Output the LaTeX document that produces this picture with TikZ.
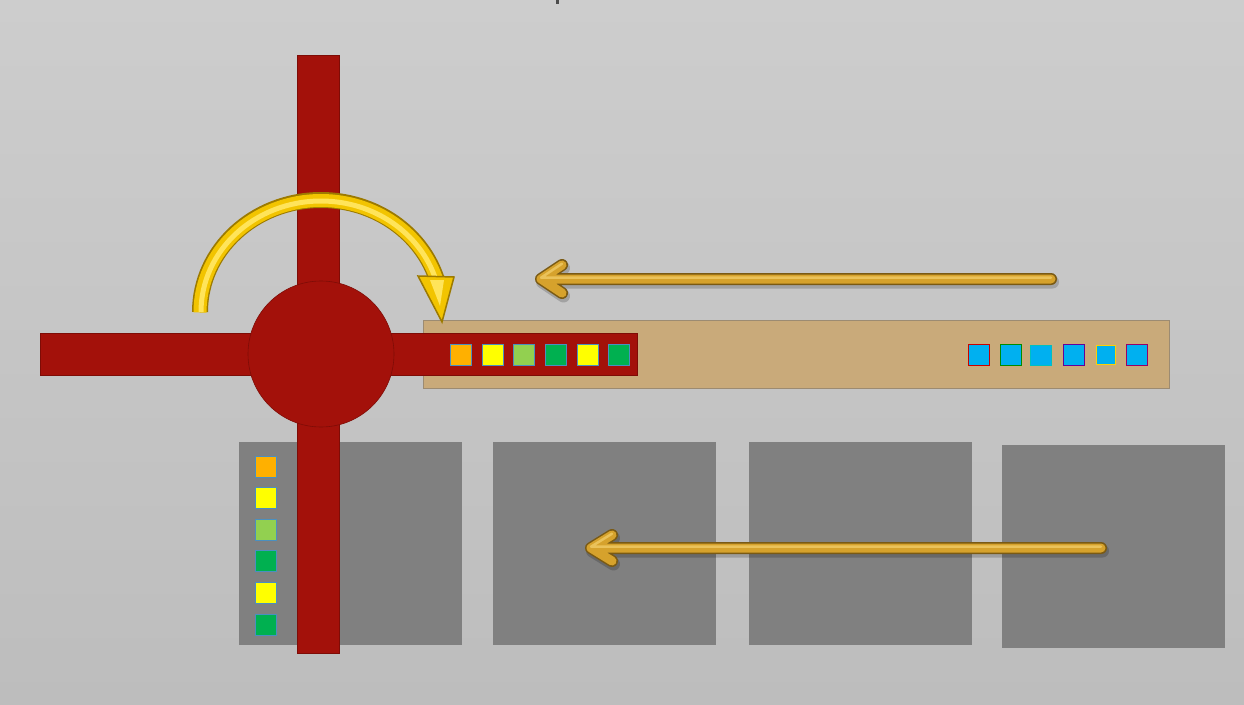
\documentclass[tikz,border=0pt]{standalone}
\definecolor{bgA}{HTML}{CDCDCD}
\definecolor{bgB}{HTML}{BDBDBD}
\definecolor{crossred}{HTML}{A3110A}
\definecolor{crossedge}{HTML}{7E0C06}
\definecolor{tan}{HTML}{C9AA7A}
\definecolor{tanedge}{HTML}{9C8B72}
\definecolor{panel}{HTML}{808080}
\definecolor{sqorange}{HTML}{FFB000}
\definecolor{sqyellow}{HTML}{FFFF00}
\definecolor{sqlime}{HTML}{92D050}
\definecolor{sqgreen}{HTML}{00B050}
\definecolor{sqcyan}{HTML}{00B0F0}
\definecolor{sqedge}{HTML}{4A8FC0}
\definecolor{golddark}{HTML}{7A5A14}
\definecolor{goldmid}{HTML}{D6A22C}
\definecolor{goldlight}{HTML}{EAC25A}
\definecolor{yeldark}{HTML}{9C7A00}
\definecolor{yelmid}{HTML}{F2C400}
\definecolor{yellight}{HTML}{FFE45A}
\tikzset{
  bar/.style={fill=crossred, draw=crossedge, line width=0.6pt},
  panelbox/.style={fill=panel, draw=none},
  sq/.style={line width=1pt, draw=sqedge},
  shaftout/.style={draw=golddark, line width=12pt, line cap=round, line join=round},
  shaftin/.style={draw=goldmid, line width=9pt, line cap=round, line join=round},
  shafthi/.style={draw=goldlight, line width=2.5pt, line cap=round, line join=round},
  shaftshadow/.style={draw=black, opacity=0.18, line width=13pt, line cap=round, line join=round},
}
\begin{document}
\begin{tikzpicture}[x=1pt,y=-1pt]
\useasboundingbox (0,0) rectangle (1244,704);
\shade[top color=bgA, bottom color=bgB] (0,0) rectangle (1244,704);
\fill[black!70] (556,0) rectangle (559,4);

% gray panels
\fill[panelbox] (239,442) rectangle (462,645);
\fill[panelbox] (493,442) rectangle (716,645);
\fill[panelbox] (749,442) rectangle (972,645);
\fill[panelbox] (1002,445) rectangle (1225,648);

% tan strip
\filldraw[fill=tan, draw=tanedge, line width=0.8pt] (423,320) rectangle (1169,388);

% red cross
\filldraw[bar] (297,55) rectangle (339,653);
\filldraw[bar] (40,333) rectangle (637,375);
\filldraw[bar] (321,354) circle[radius=73];

% squares in red bar
\filldraw[sq, fill=sqorange] (450,344) rectangle ++(21,21);
\filldraw[sq, fill=sqyellow] (482,344) rectangle ++(21,21);
\filldraw[sq, fill=sqlime]   (513,344) rectangle ++(21,21);
\filldraw[sq, fill=sqgreen]  (545,344) rectangle ++(21,21);
\filldraw[sq, fill=sqyellow] (577,344) rectangle ++(21,21);
\filldraw[sq, fill=sqgreen]  (608,344) rectangle ++(21,21);

% cyan squares in tan strip
\filldraw[line width=1pt, draw=red!80!black, fill=sqcyan] (968,344) rectangle ++(21,21);
\filldraw[line width=1pt, draw=green!55!black, fill=sqcyan] (1000,344) rectangle ++(21,21);
\filldraw[line width=1pt, draw=sqcyan!80!green, fill=sqcyan] (1030,345) rectangle ++(21,20);
\filldraw[line width=1pt, draw=violet!80!blue, fill=sqcyan] (1063,344) rectangle ++(21,21);
\filldraw[line width=1pt, draw=yellow!70!orange, fill=sqcyan] (1096,345) rectangle ++(19,19);
\filldraw[line width=1pt, draw=red!60!blue, fill=sqcyan] (1126,344) rectangle ++(21,21);

% squares in first panel
\filldraw[sq, fill=sqorange] (255,456) rectangle ++(21,21);
\filldraw[sq, fill=sqyellow] (255,487) rectangle ++(21,21);
\filldraw[sq, fill=sqlime]   (255,519) rectangle ++(21,21);
\filldraw[sq, fill=sqgreen]  (255,550) rectangle ++(21,21);
\filldraw[sq, fill=sqyellow] (255,582) rectangle ++(21,21);
\filldraw[sq, fill=sqgreen]  (255,614) rectangle ++(21,21);

% straight arrows
\coordinate (a1s) at (1051,279);
\coordinate (a1t) at (541,279);
\coordinate (a1u) at (562,265);
\coordinate (a1d) at (562,293);
\coordinate (a2s) at (1101,548);
\coordinate (a2t) at (591,548);
\coordinate (a2u) at (612,535);
\coordinate (a2d) at (612,561);
\foreach \s/\t/\u/\d in {a1s/a1t/a1u/a1d, a2s/a2t/a2u/a2d}{
  \draw[shaftshadow, transform canvas={xshift=1.5pt, yshift=-3pt}] (\s) -- (\t) (\u) -- (\t) -- (\d);
  \draw[shaftout] (\s) -- (\t) (\u) -- (\t) -- (\d);
  \draw[shaftin] (\s) -- (\t) (\u) -- (\t) -- (\d);
  \draw[shafthi, transform canvas={yshift=1.3pt}] (\s) -- (\t) (\u) -- (\t);
}

% curved arrow
\coordinate (cs) at (200,312);
\coordinate (ctip) at (442,322);
\coordinate (cl) at (418,276);
\coordinate (cr) at (454,277);
\draw[draw=yeldark, line width=16pt, line cap=butt] (cs) arc[start angle=180, end angle=344, x radius=121, y radius=112];
\draw[draw=yelmid, line width=13pt, line cap=butt] ([yshift=-0.5pt]cs) arc[start angle=180, end angle=344, x radius=121, y radius=112];
\draw[draw=yellight, line width=5pt] ([xshift=1pt]cs) arc[start angle=180, end angle=343, x radius=120, y radius=111];
\filldraw[fill=yelmid, draw=yeldark, line width=1.5pt, line join=miter] (cl) -- (cr) -- (ctip) -- cycle;
\fill[yellight] (430,280) -- (444,280) -- (440,306) -- cycle;
\end{tikzpicture}
\end{document}
